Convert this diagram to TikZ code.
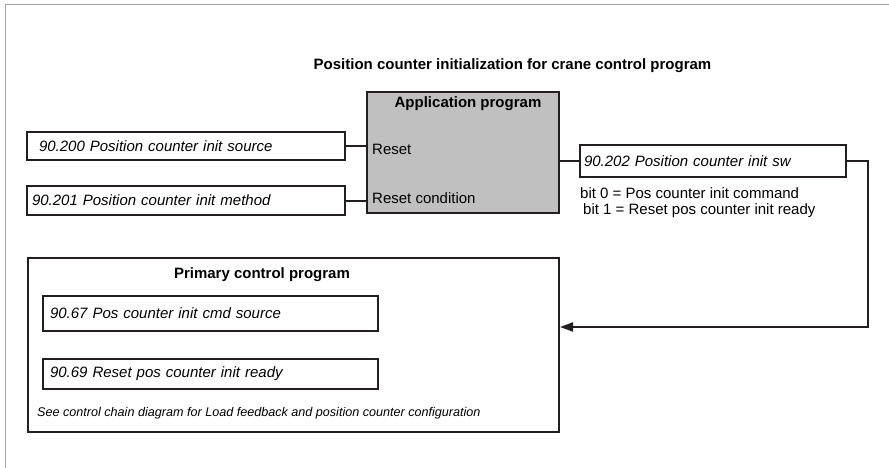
\documentclass[tikz,border=0pt]{standalone}
\usepackage{fontspec}
\setmainfont{Liberation Sans}
\usetikzlibrary{arrows.meta,positioning,calc}
\definecolor{framegray}{RGB}{166,166,166}
\definecolor{appgray}{RGB}{192,192,192}
\definecolor{inkblack}{RGB}{35,31,32}

\begin{document}
\begin{tikzpicture}[x=1pt,y=-1pt,
      par/.style={draw=inkblack,line width=2pt,inner xsep=5pt,inner ysep=0pt,align=left,font=\fontsize{15}{18}\selectfont\itshape},
      lbl/.style={inner sep=0pt,font=\fontsize{15}{18}\selectfont},
      hdr/.style={inner sep=0pt,font=\fontsize{15}{18}\selectfont\bfseries},
      blk/.style={draw=inkblack,line width=2pt,inner sep=0pt},
      wire/.style={draw=inkblack,line width=2pt}]
      \useasboundingbox (0,0) rectangle (889,468);
      \draw[framegray,line width=1.5pt] (5.5,468) -- (5.5,4.5) -- (889,4.5);

      \node[hdr] (title) at (512.5,66) {Position counter initialization for crane control program};

      % application program block
      \node[blk,fill=appgray,minimum width=192pt,minimum height=121pt] (app) at (463,152.5) {};
      \node[hdr] (apptitle) at (468,104) {Application program};
      \node[lbl,anchor=west] (reset) at (372,149) {Reset};
      \node[lbl,anchor=west] (resetcond) at (372,198) {Reset condition};

      \node[par,text width=308pt,minimum height=28pt] (src) at (186,146) {\hspace*{7pt}90.200 Position counter init source};
      \node[par,text width=308pt,minimum height=29pt,below=24pt of src] (method) {90.201 Position counter init method};
      \node[par,text width=258pt,inner xsep=4pt,minimum height=32pt] (sw) at (713,161) {90.202 Position counter init sw};
      \node[lbl,anchor=west] (bitzero) at (580,193) {bit 0 = Pos counter init command};
      \node[lbl,anchor=west] (bitone) at (583,211) {bit 1 = Reset pos counter init ready};

      % primary control program block
      \node[blk,minimum width=531pt,minimum height=174pt] (prim) at (293.5,345) {};
      \node[hdr] (primtitle) at (262,275) {Primary control program};
      \node[par,text width=321pt,inner xsep=7pt,minimum height=35pt] (cmd) at (210.5,313.5) {90.67 Pos counter init cmd source};
      \node[par,text width=321pt,inner xsep=7pt,minimum height=30pt,below=26pt of cmd] (ready) {90.69 Reset pos counter init ready};
      \node[lbl,anchor=west,font=\fontsize{12.6}{15}\selectfont\itshape] (note) at (37,413) {See control chain diagram for Load feedback and position counter configuration};

      \coordinate (turn) at (868,327);
      \draw[wire] (src.east) -- (src.east -| app.west);
      \draw[wire] (method.east) -- (method.east -| app.west);
      \draw[wire] (app.east |- sw.west) -- (sw.west);
      \draw[wire,-{Triangle[length=13pt,width=9pt]}] (sw.east) -| (turn) -- (turn -| prim.east);
    \end{tikzpicture}
\end{document}
